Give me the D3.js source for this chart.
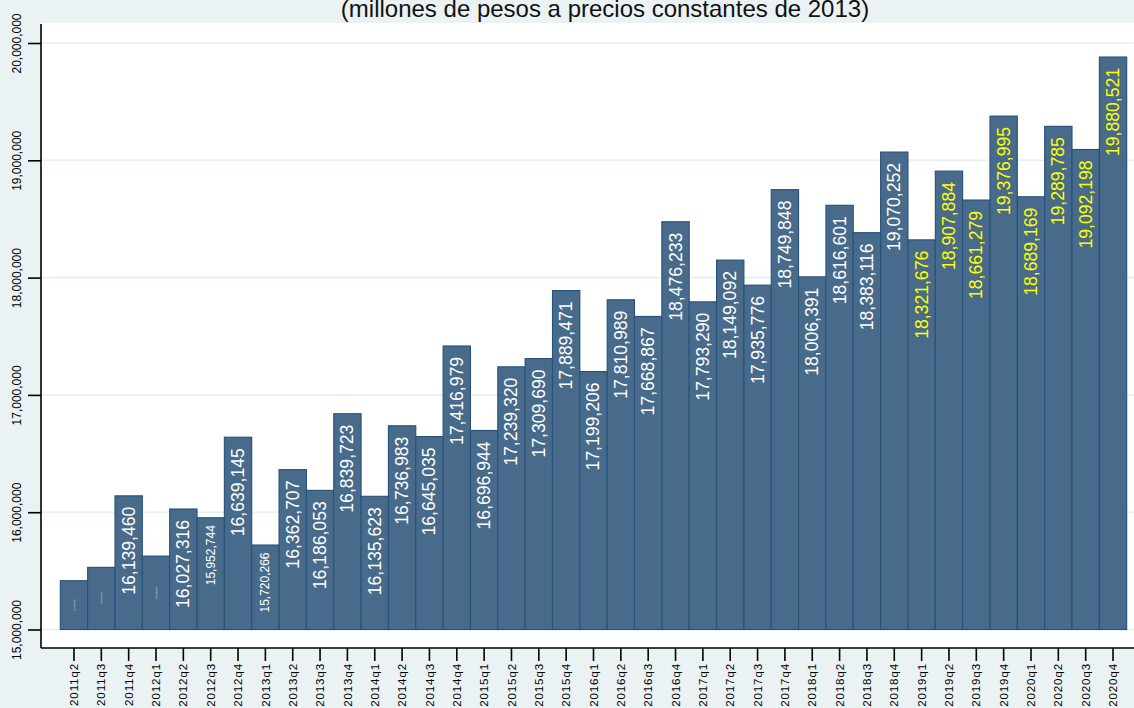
<!DOCTYPE html>
<html>
<head>
<meta charset="utf-8">
<script src="https://cdn.jsdelivr.net/npm/d3@7"></script>
<style>
  body { margin: 0; background: #eaf2f3; }
  text { font-family: "Liberation Sans", Arial, sans-serif; }
</style>
</head>
<body>
<div id="chart"></div>
<script>
// quarters and values (millones de pesos a precios constantes de 2013)
var quarters = ["2011q2","2011q3","2011q4","2012q1","2012q2","2012q3","2012q4",
  "2013q1","2013q2","2013q3","2013q4","2014q1","2014q2","2014q3","2014q4",
  "2015q1","2015q2","2015q3","2015q4","2016q1","2016q2","2016q3","2016q4",
  "2017q1","2017q2","2017q3","2017q4","2018q1","2018q2","2018q3","2018q4",
  "2019q1","2019q2","2019q3","2019q4","2020q1","2020q2","2020q3","2020q4"];

var values = [15416000, 15530000, 16139460, 15626000, 16027316, 15952744, 16639145,
  15720266, 16362707, 16186053, 16839723, 16135623, 16736983, 16645035, 17416979,
  16696944, 17239320, 17309690, 17889471, 17199206, 17810989, 17668867, 18476233,
  17793290, 18149092, 17935776, 18749848, 18006391, 18616601, 18383116, 19070252,
  18321676, 18907884, 18661279, 19376995, 18689169, 19289785, 19092198, 19880521];

var yTicks = [15000000, 16000000, 17000000, 18000000, 19000000, 20000000];

var subtitle = "(millones de pesos a precios constantes de 2013)";

var svgWidth = 1134;
var svgHeight = 708;

var plot = { left: 41, right: 1134, top: 23, bottom: 648 };

var svg = d3.select("#chart")
    .append("svg")
    .attr("width", svgWidth)
    .attr("height", svgHeight);

svg.append("rect")
    .attr("width", svgWidth)
    .attr("height", svgHeight)
    .attr("fill", "#eaf2f3");

svg.append("rect")
    .attr("x", plot.left)
    .attr("y", plot.top)
    .attr("width", plot.right - plot.left)
    .attr("height", plot.bottom - plot.top)
    .attr("fill", "white");

// the title sits partly above the top edge, as in the original
svg.append("text")
    .attr("x", 605)
    .attr("y", 17)
    .attr("text-anchor", "middle")
    .attr("font-size", "24px")
    .attr("fill", "#111")
    .text(subtitle);

var xScale = d3.scaleBand()
    .domain(quarters)
    .range([60.3, 1126.7])
    .padding(0);

var yScale = d3.scaleLinear()
    .domain([15000000, 20000000])
    .range([629.5, 43]);

// gridlines
svg.append("g")
    .selectAll("line")
    .data(yTicks)
    .enter()
    .append("line")
    .attr("x1", plot.left)
    .attr("x2", plot.right)
    .attr("y1", d => yScale(d))
    .attr("y2", d => yScale(d))
    .attr("stroke", "#e6eff1")
    .attr("stroke-width", 1.6);

var data = quarters.map((q, i) => ({ q: q, v: values[i] }));

svg.append("g")
    .selectAll("rect")
    .data(data)
    .enter()
    .append("rect")
    .attr("x", d => xScale(d.q))
    .attr("y", d => yScale(d.v))
    .attr("width", xScale.bandwidth())
    .attr("height", d => yScale(15000000) - yScale(d.v))
    .attr("fill", "#486b8c")
    .attr("stroke", "#26517a")
    .attr("stroke-width", 1.1);

// bar labels, shrunk on short bars
function labelSize(v) {
    if (v >= 16000000) return 17.6;
    if (v >= 15700000) return 12;
    return 2.4;
}

var firstYellow = quarters.indexOf("2019q1");

svg.append("g")
    .selectAll("text")
    .data(data)
    .enter()
    .append("text")
    .attr("transform", function(d) {
        var cx = xScale(d.q) + xScale.bandwidth() / 2;
        var fs = labelSize(d.v);
        if (fs < 5) {
            var mid = (yScale(d.v) + yScale(15000000)) / 2;
            return `translate(${cx},${mid}) rotate(-90)`;
        }
        return `translate(${cx},${yScale(d.v) + fs * 0.62}) rotate(-90)`;
    })
    .attr("text-anchor", d => labelSize(d.v) < 5 ? "middle" : "end")
    .attr("dy", "0.34em")
    .attr("font-size", d => labelSize(d.v) + "px")
    .attr("fill", (d, i) => i >= firstYellow ? "#ffff00" : "white")
    .text(d => d3.format(",")(d.v));

// axes
var bottomAxis = d3.axisBottom(xScale).tickSize(13).tickSizeOuter(0);
var leftAxis = d3.axisLeft(yScale).tickValues(yTicks).tickSize(13)
    .tickSizeOuter(0).tickFormat(d3.format(","));

var gx = svg.append("g")
    .attr("transform", `translate(0,${plot.bottom})`)
    .call(bottomAxis);
gx.select(".domain").remove();
gx.selectAll(".tick line").attr("stroke", "#000").attr("stroke-width", 1.6);
gx.selectAll(".tick text")
    .attr("font-size", "11.5px")
    .attr("letter-spacing", "0.9px")
    .attr("fill", "#000")
    .attr("text-anchor", "end")
    .attr("transform", "rotate(-90)")
    .attr("x", -15)
    .attr("y", 0)
    .attr("dy", "0.36em");

var gy = svg.append("g")
    .attr("transform", `translate(${plot.left},0)`)
    .call(leftAxis);
gy.select(".domain").remove();
gy.selectAll(".tick line").attr("stroke", "#000").attr("stroke-width", 1.6);
gy.selectAll(".tick text")
    .attr("font-size", "12px")
    .attr("fill", "#000")
    .attr("text-anchor", "middle")
    .attr("transform", "rotate(-90)")
    .attr("x", 0)
    .attr("y", -20)
    .attr("dy", 0);

svg.append("line")
    .attr("x1", plot.left).attr("x2", plot.left)
    .attr("y1", plot.top + 1).attr("y2", plot.bottom)
    .attr("stroke", "#000").attr("stroke-width", 1.6);

svg.append("line")
    .attr("x1", plot.left).attr("x2", plot.right)
    .attr("y1", plot.bottom).attr("y2", plot.bottom)
    .attr("stroke", "#000").attr("stroke-width", 1.6);
</script>
</body>
</html>
